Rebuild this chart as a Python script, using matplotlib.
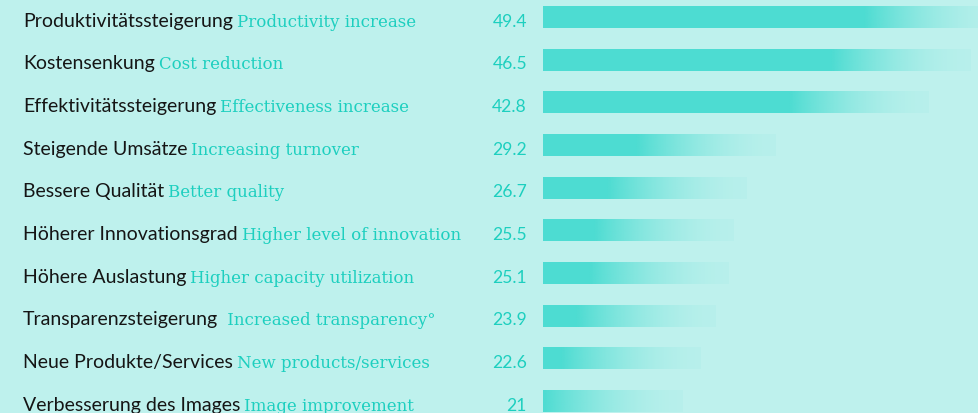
import numpy as np
import matplotlib
matplotlib.use("Agg")
from matplotlib import pyplot as plt
from matplotlib import transforms
from matplotlib.colors import to_rgb

# data
labels_de = ["Produktivitätssteigerung", "Kostensenkung", "Effektivitätssteigerung",
             "Steigende Umsätze", "Bessere Qualität", "Höherer Innovationsgrad",
             "Höhere Auslastung", "Transparenzsteigerung", "Neue Produkte/Services",
             "Verbesserung des Images"]
labels_en = ["Productivity increase", "Cost reduction", "Effectiveness increase",
             "Increasing turnover", "Better quality", "Higher level of innovation",
             "Higher capacity utilization", " Increased transparency°",
             "New products/services", "Image improvement"]
values = [49.4, 46.5, 42.8, 29.2, 26.7, 25.5, 25.1, 23.9, 22.6, 21]
value_labels = ["49.4", "46.5", "42.8", "29.2", "26.7", "25.5", "25.1", "23.9", "22.6", "21"]

bg = "#bef1ed"
bar_col = "#4ddcd2"
teal = "#1dcfbf"
black = "#151515"

W, H = 979, 414
fig = plt.figure(figsize=(W / 100, H / 100), dpi=100, facecolor=bg)
ax = fig.add_axes([543 / W, 0, 1 - 543 / W, 1])
ax.set_facecolor(bg)

px_per_unit = 11.3
fade = 140 / px_per_unit          # width of the fading tail in data units
x0 = min(values) - fade
x1 = x0 + (W - 543) / px_per_unit
pitch = 42.67
bar_h = 22 / pitch

# gradient image for the tail
t = np.linspace(0, 1, 256)
alpha = 0.06 + 0.94 * (1 - t) ** 1.8
grad = np.zeros((1, 256, 4))
grad[..., :3] = to_rgb(bar_col)
grad[..., 3] = alpha

ys = np.arange(len(values))
for y, v in zip(ys, values):
    ax.barh(y, v - fade, height=bar_h, color=bar_col, linewidth=0)
    ax.imshow(grad, extent=(v - fade, v, y + bar_h / 2, y - bar_h / 2),
              aspect="auto", interpolation="bilinear")

ax.set_xlim(x0, x1)
ax.set_ylim(9 + 12 / pitch, -18 / pitch)
ax.axis("off")

# labels
trans = transforms.blended_transform_factory(fig.transFigure, ax.transData)
base = 8.7 / pitch
de_texts = []
for y, de, val in zip(ys, labels_de, value_labels):
    t_de = fig.text(23 / W, y + base, de, transform=trans, color=black,
                    fontsize=14, family="Lato", va="baseline", ha="left")
    de_texts.append(t_de)
    fig.text(527 / W, y + base, val, transform=trans, color=teal,
             fontsize=12.6, family="Lato", va="baseline", ha="right")

fig.canvas.draw()
r = fig.canvas.get_renderer()
for y, t_de, en in zip(ys, de_texts, labels_en):
    x_end = t_de.get_window_extent(r).x1
    fig.text((x_end + 4) / W, y + base, en, transform=trans, color=teal,
             fontsize=12.0, family="DejaVu Serif", va="baseline", ha="left")

fig.savefig("out.png", dpi=100, facecolor=bg)
